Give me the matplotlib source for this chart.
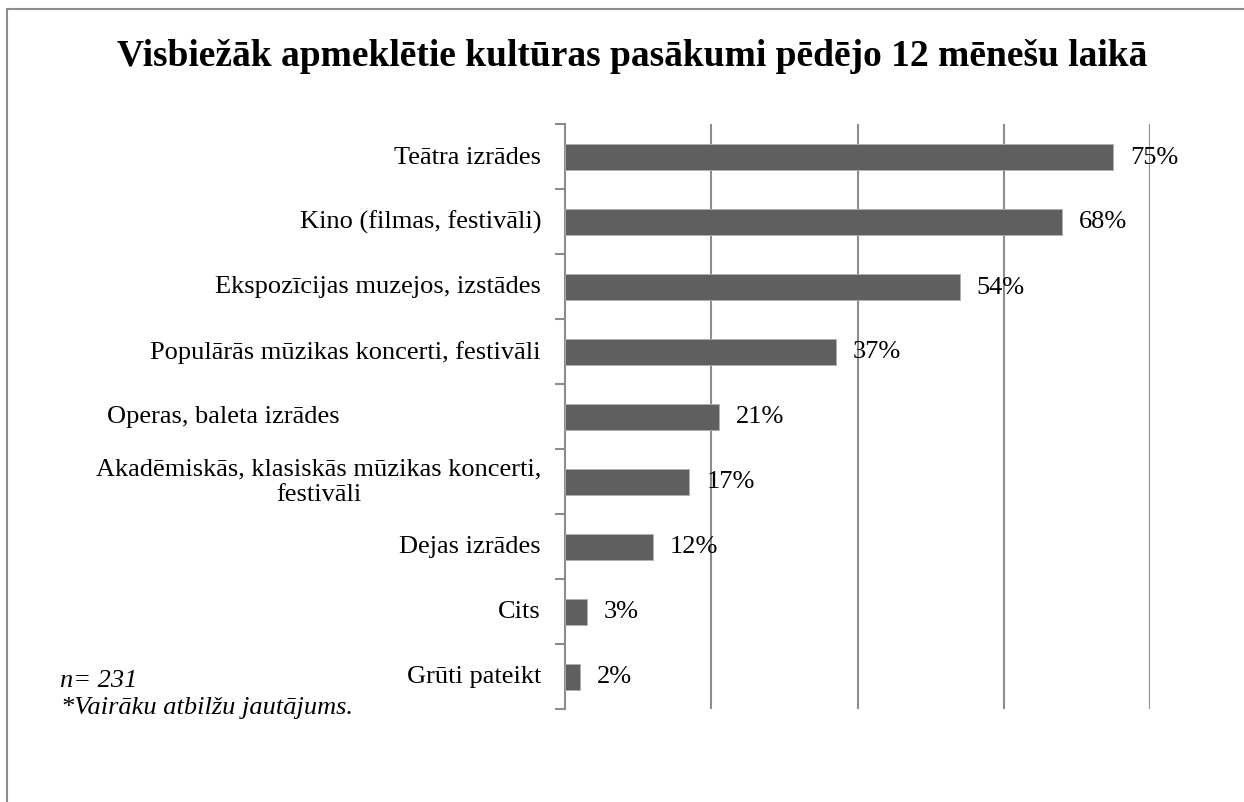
import numpy as np
import matplotlib
matplotlib.use("Agg")
import matplotlib.pyplot as plt
from matplotlib.patches import Rectangle

# dati
kategorijas = ["Teātra izrādes", "Kino (filmas, festivāli)", "Ekspozīcijas muzejos, izstādes",
               "Populārās mūzikas koncerti, festivāli", "Operas, baleta izrādes",
               "Akadēmiskās, klasiskās mūzikas koncerti,\nfestivāli", "Dejas izrādes", "Cits",
               "Grūti pateikt"]
vertibas = [75, 68, 54, 37, 21, 17, 12, 3, 2]

plt.rcParams['font.family'] = ['Liberation Serif', 'DejaVu Serif']

fig = plt.figure(figsize=(12.44, 8.03), dpi=100)
fig.patches.append(Rectangle((7 / 1244, -0.5), 1.2, 1.5 - 10 / 803, transform=fig.transFigure,
                             fill=False, edgecolor='#8c8c8c', linewidth=1.5))

ax = fig.add_axes([565 / 1244, 1 - 710 / 803, (1150 - 565) / 1244, (710 - 125) / 803])
y = np.arange(len(kategorijas))
ax.barh(y, vertibas, height=0.4, color='#5f5f5f', edgecolor='#b0b0b0', linewidth=0.6, zorder=3)
ax.set_xlim(0, 80)
ax.set_ylim(len(kategorijas) - 0.5, -0.5)

ax.set_xticks([20, 40, 60, 80])
ax.xaxis.grid(True, color='#8c8c8c', linewidth=1.5)
ax.tick_params(axis='x', length=0, labelbottom=False)
ax.set_yticks(np.arange(len(kategorijas) + 1) - 0.5)
ax.set_yticklabels([])
ax.tick_params(axis='y', length=7, width=1.5, color='#8c8c8c')
for s in ['top', 'right', 'bottom']:
    ax.spines[s].set_visible(False)
ax.spines['left'].set_color('#8c8c8c')
ax.spines['left'].set_linewidth(1.5)

fs = 19
# kategoriju nosaukumi
for i, k in enumerate(kategorijas):
    if k.startswith("Operas"):
        ax.annotate(k, xy=(0, i), xycoords=('axes fraction', 'data'), xytext=(-342, 0),
                    textcoords='offset pixels', ha='center', va='center', fontsize=fs)
    else:
        ax.annotate(k, xy=(0, i), xycoords=('axes fraction', 'data'), xytext=(-24, 0),
                    textcoords='offset pixels', ha='right', va='center', fontsize=fs,
                    multialignment='center')

# vērtības
for i, v in enumerate(vertibas):
    ax.annotate(f"{v}%", xy=(v, i), xytext=(17, 0), textcoords='offset pixels',
                ha='left', va='center', fontsize=fs, zorder=4)

fig.text(632 / 1244, 1 - 56 / 803, "Visbiežāk apmeklētie kultūras pasākumi pēdējo 12 mēnešu laikā",
         ha='center', va='center', fontsize=27, fontweight='bold')
fig.text(60 / 1244, 1 - 681 / 803, "n= 231", ha='left', va='center', fontsize=19, style='italic')
fig.text(61 / 1244, 1 - 708 / 803, "*Vairāku atbilžu jautājums.", ha='left', va='center',
         fontsize=19, style='italic')

fig.savefig("out.png", dpi=100)
